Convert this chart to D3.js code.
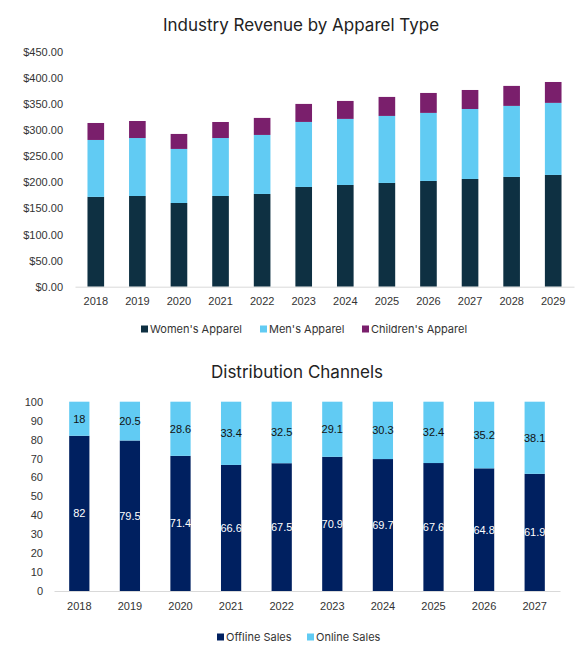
<!DOCTYPE html>
<html>
<head>
<meta charset="utf-8">
<script src="https://cdn.jsdelivr.net/npm/d3@7"></script>
<style>
  body { margin: 0; background: #fff; }
  svg { display: block; font-family: "Liberation Sans", Arial, sans-serif; }
  .title { font-family: Inter, "Noto Sans", sans-serif; font-size: 17px; fill: #222; }
  .tick text { font-size: 11px; fill: #333; }
  .legend text { font-family: Inter, "Noto Sans", sans-serif; font-size: 11px; fill: #333; }
</style>
</head>
<body>
<script>
// revenue chart data
let years1 = ['2018','2019','2020','2021','2022','2023','2024','2025','2026','2027','2028','2029']
let womens = [172, 173.7, 160.3, 173.7, 177.6, 191, 194.8, 198.7, 202.5, 206.3, 210.2, 214]
let mens = [109, 111, 103.5, 111, 113, 124.5, 126.5, 128.3, 130.3, 134, 136, 138]
let childrens = [32.5, 32.6, 28.7, 30.7, 32.6, 34.5, 34.4, 36.4, 38.2, 36.4, 38.3, 40]
let revTicks = [0, 50, 100, 150, 200, 250, 300, 350, 400, 450]

// distribution chart data
let years2 = ['2018','2019','2020','2021','2022','2023','2024','2025','2026','2027']
let offline = [82, 79.5, 71.4, 66.6, 67.5, 70.9, 69.7, 67.6, 64.8, 61.9]
let online = [18, 20.5, 28.6, 33.4, 32.5, 29.1, 30.3, 32.4, 35.2, 38.1]
let pctTicks = [0, 10, 20, 30, 40, 50, 60, 70, 80, 90, 100]

let svg = d3.select('body').append('svg')
    .attr('width', 586)
    .attr('height', 655)

// ---- chart 1
let keys1 = ['Women\'s Apparel', 'Men\'s Apparel', 'Children\'s Apparel']
let colors1 = ['#0e3042', '#61cbf3', '#7a1f6c']
let rows1 = years1.map((y, i) => ({year: y, 'Women\'s Apparel': womens[i], 'Men\'s Apparel': mens[i], 'Children\'s Apparel': childrens[i]}))
let stack1 = d3.stack().keys(keys1)(rows1)

let x1 = d3.scaleBand().domain(years1).range([75, 574]).paddingInner(0.6).paddingOuter(0.3)
let y1 = d3.scaleLinear().domain([0, 450]).range([286.7, 51.7])

svg.append('text').attr('class', 'title')
    .attr('x', 301).attr('y', 31).attr('text-anchor', 'middle')
    .text('Industry Revenue by Apparel Type')

let g1 = svg.append('g')
g1.selectAll('g.series')
    .data(stack1)
    .join('g')
    .attr('fill', (d, i) => colors1[i])
    .selectAll('rect')
    .data(d => d)
    .join('rect')
    .attr('x', d => x1(d.data.year))
    .attr('width', x1.bandwidth())
    .attr('y', d => y1(d[1]))
    .attr('height', d => y1(d[0]) - y1(d[1]))

let yAxis1 = svg.append('g')
    .attr('transform', 'translate(66,0)')
    .call(d3.axisLeft(y1).tickValues(revTicks).tickSize(0).tickFormat(d => '$' + d.toFixed(2)))
yAxis1.select('.domain').remove()

let xAxis1 = svg.append('g')
    .attr('transform', 'translate(0,286.7)')
    .call(d3.axisBottom(x1).tickSize(0).tickPadding(11))
xAxis1.select('.domain').attr('stroke', '#d9d9d9')

let leg1 = svg.append('g').attr('class', 'legend')
let legX1 = [141, 260, 362]
keys1.forEach((k, i) => {
    leg1.append('rect').attr('x', legX1[i]).attr('y', 325.5).attr('width', 7).attr('height', 7).attr('fill', colors1[i])
    leg1.append('text').attr('x', legX1[i] + 9).attr('y', 333).text(k)
})

// ---- chart 2
let keys2 = ['Offline Sales', 'Online Sales']
let colors2 = ['#002060', '#61cbf3']
let rows2 = years2.map((y, i) => ({year: y, 'Offline Sales': offline[i], 'Online Sales': online[i]}))
let stack2 = d3.stack().keys(keys2)(rows2)

let x2 = d3.scaleBand().domain(years2).range([54, 560]).paddingInner(0.6).paddingOuter(0.3)
let y2 = d3.scaleLinear().domain([0, 100]).range([591, 401.7])

svg.append('text').attr('class', 'title')
    .attr('x', 297).attr('y', 378).attr('text-anchor', 'middle')
    .text('Distribution Channels')

let g2 = svg.append('g')
let ser2 = g2.selectAll('g.series')
    .data(stack2)
    .join('g')
    .attr('fill', (d, i) => colors2[i])
ser2.selectAll('rect')
    .data(d => d)
    .join('rect')
    .attr('x', d => x2(d.data.year))
    .attr('width', x2.bandwidth())
    .attr('y', d => y2(d[1]))
    .attr('height', d => y2(d[0]) - y2(d[1]))

ser2.each(function(s, si) {
    d3.select(this).selectAll('text')
        .data(s)
        .join('text')
        .attr('x', d => x2(d.data.year) + x2.bandwidth() / 2)
        .attr('y', d => (y2(d[0]) + y2(d[1])) / 2 + 4)
        .attr('text-anchor', 'middle')
        .attr('font-size', 11)
        .attr('fill', si == 0 ? '#fff' : '#111')
        .text(d => d.data[s.key])
})

let yAxis2 = svg.append('g')
    .attr('transform', 'translate(46,0)')
    .call(d3.axisLeft(y2).tickValues(pctTicks).tickSize(0))
yAxis2.select('.domain').remove()

let xAxis2 = svg.append('g')
    .attr('transform', 'translate(0,591)')
    .call(d3.axisBottom(x2).tickSize(0).tickPadding(11))
xAxis2.select('.domain').attr('stroke', '#d9d9d9')

let leg2 = svg.append('g').attr('class', 'legend')
let legX2 = [217, 307]
keys2.forEach((k, i) => {
    leg2.append('rect').attr('x', legX2[i]).attr('y', 633.5).attr('width', 7).attr('height', 7).attr('fill', colors2[i])
    leg2.append('text').attr('x', legX2[i] + 9).attr('y', 641).text(k)
})
</script>
</body>
</html>
